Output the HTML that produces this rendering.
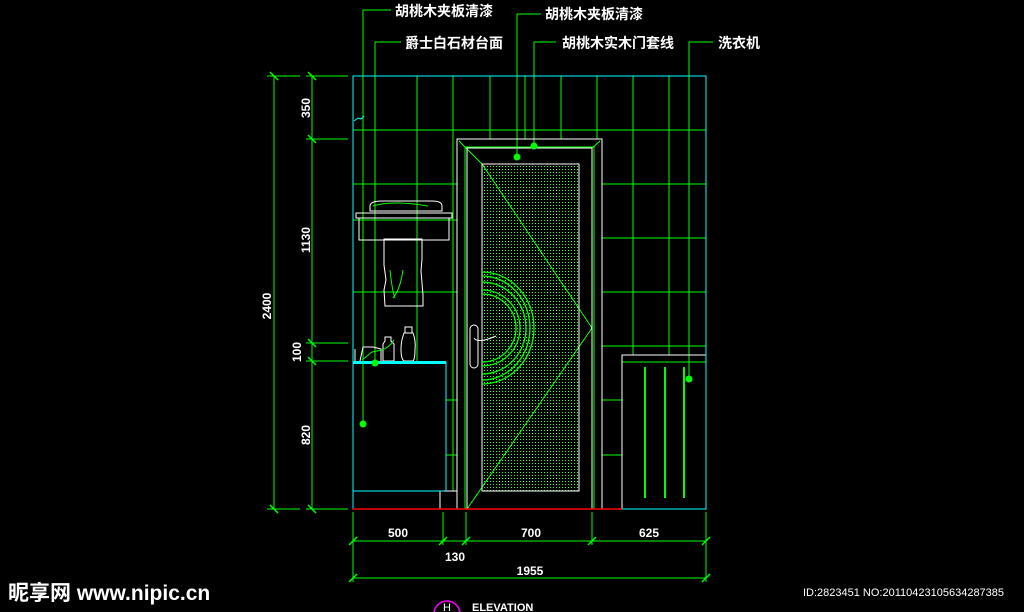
<!DOCTYPE html>
<html><head><meta charset="utf-8"><style>
html,body{margin:0;padding:0;background:#000;width:1024px;height:612px;overflow:hidden}
svg{display:block}
text{font-family:"Liberation Sans","Noto Sans CJK SC",sans-serif;fill:#fff}
</style></head><body>
<svg width="1024" height="612" viewBox="0 0 1024 612" xmlns="http://www.w3.org/2000/svg">
<defs>
<pattern id="dots" width="3" height="3" patternUnits="userSpaceOnUse"><rect x="1" y="1" width="1" height="1" fill="#3f3"/></pattern>
</defs>
<g stroke="#0f0" stroke-width="1" fill="none" shape-rendering="crispEdges">
<line x1="353" y1="130" x2="706" y2="130"/>
<line x1="353" y1="184" x2="457" y2="184"/><line x1="602" y1="184" x2="706" y2="184"/>
<line x1="353" y1="220" x2="457" y2="220"/>
<line x1="602" y1="238" x2="706" y2="238"/>
<line x1="353" y1="292" x2="457" y2="292"/><line x1="602" y1="292" x2="706" y2="292"/>
<line x1="602" y1="346" x2="706" y2="346"/>
<line x1="622" y1="362" x2="706" y2="362"/>
<line x1="446" y1="400" x2="457" y2="400"/><line x1="602" y1="400" x2="622" y2="400"/>
<line x1="446" y1="455" x2="457" y2="455"/><line x1="602" y1="455" x2="622" y2="455"/>
<line x1="417" y1="76" x2="417" y2="362"/>
<line x1="453" y1="76" x2="453" y2="491"/>
<line x1="490" y1="76" x2="490" y2="139"/>
<line x1="525" y1="76" x2="525" y2="139"/>
<line x1="561" y1="76" x2="561" y2="139"/>
<line x1="597" y1="76" x2="597" y2="139"/>
<line x1="633" y1="76" x2="633" y2="355"/>
<line x1="669" y1="76" x2="669" y2="355"/>
<polyline points="391,10 363,10 363,424"/>
<polyline points="401,42 375,42 375,363"/>
<polyline points="541,14 517,14 517,157"/>
<polyline points="556,42 534,42 534,146"/>
<polyline points="713,42 689,42 689,379"/>
<rect x="465" y="147" width="129" height="362"/>
<line x1="459" y1="141" x2="482" y2="164"/>
<line x1="600" y1="141" x2="592" y2="148"/>
<line x1="482" y1="164" x2="592" y2="328"/>
<line x1="592" y1="328" x2="467" y2="509"/>
<line x1="645" y1="367" x2="645" y2="498" stroke-width="2"/>
<line x1="665" y1="367" x2="665" y2="498" stroke-width="2"/>
<line x1="684" y1="367" x2="684" y2="498" stroke-width="2"/>
<line x1="274" y1="76" x2="274" y2="509"/>
<line x1="312" y1="76" x2="312" y2="509"/>
<line x1="267" y1="76" x2="300" y2="76"/><line x1="306" y1="76" x2="348" y2="76"/>
<line x1="306" y1="139" x2="348" y2="139"/>
<line x1="306" y1="343" x2="348" y2="343"/>
<line x1="306" y1="361" x2="348" y2="361"/>
<line x1="267" y1="509" x2="300" y2="509"/><line x1="306" y1="509" x2="348" y2="509"/>
<line x1="353" y1="541" x2="706" y2="541"/>
<line x1="353" y1="578" x2="706" y2="578"/>
<line x1="353" y1="512" x2="353" y2="582"/>
<line x1="443" y1="512" x2="443" y2="545"/>
<line x1="466" y1="512" x2="466" y2="545"/>
<line x1="592" y1="512" x2="592" y2="545"/>
<line x1="706" y1="512" x2="706" y2="582"/>
</g>
<g stroke="#0f0" stroke-width="1.5">
<path d="M270 72l8 8M308 72l8 8M308 135l8 8M308 339l8 8M308 357l8 8M270 505l8 8M308 505l8 8"/>
<path d="M349 545l8-8M439 545l8-8M462 545l8-8M588 545l8-8M702 545l8-8M349 582l8-8M702 582l8-8"/>
</g>
<rect x="482" y="164" width="97" height="327" fill="url(#dots)" stroke="#fff" stroke-width="1"/>
<g fill="none" stroke="#0f0" stroke-width="1.3">
<path d="M482 272 a52 56 0 0 1 0 112"/><path d="M482 276 a48 52 0 0 1 0 104"/>
<path d="M482 282 a44 46 0 0 1 0 92"/><path d="M482 290 a38 38 0 0 1 0 76"/><path d="M482 294 a34 34 0 0 1 0 68"/>
</g>
<g fill="none" stroke="#fff" stroke-width="1" shape-rendering="crispEdges">
<rect x="457" y="139" width="145" height="370"/>
<rect x="467" y="148" width="125" height="361"/>
<rect x="622" y="355" width="84" height="154"/>
<rect x="353" y="491" width="104" height="18"/>
<line x1="440" y1="491" x2="440" y2="509"/>
</g>
<rect x="470" y="325" width="8" height="43" rx="4" fill="none" stroke="#fff"/>
<path d="M474 338 q4 6 22 -2" fill="none" stroke="#fff"/>
<g fill="none" stroke="#fff" stroke-width="1">
<path d="M370 206 q0-5 12-5 h50 q10 0 10 5 v5 h-72z"/>
<rect x="356" y="213" width="96" height="5"/>
<rect x="359" y="218" width="90" height="22"/>
<path d="M384 239 h38 v20 l-1 12 2 24 v11 h-38 l-1-16 2-10 -2-15z"/>
<path d="M383 361 v-17 l2-3 v-4 h6 v4 l3 3 v17z"/>
<rect x="405" y="327" width="7" height="6"/>
<path d="M404 333 h9 q3 8 2 16 q0 10 -2 12 h-9 q-3 -2 -3 -12 q0 -8 3 -16z"/>
<path d="M355 361 v-12 M360 361 l3-14 h10 l8 2 v12"/>
</g>
<path d="M373 206 q20 -6 55 0" fill="none" stroke="#0f0"/>
<path d="M390 270 q2 20 5 28M403 270 q-3 20 -10 28M362 360 l10-8 10-2 q8-3 12-10" fill="none" stroke="#0f0"/>
<g fill="none" stroke="#0ff" stroke-width="1" shape-rendering="crispEdges">
<rect x="353" y="76" width="353" height="433"/>
<line x1="446" y1="362" x2="446" y2="491"/>
<line x1="353" y1="491" x2="444" y2="491"/>
</g>
<rect x="353" y="361" width="93" height="3" fill="#0ff"/>
<path d="M354 121 l4-3 3 1 3-3" stroke="#0ff" fill="none"/>
<line x1="353" y1="509" x2="622" y2="509" stroke="#f00" stroke-width="1.5"/>
<g fill="#0f0"><circle cx="363" cy="424" r="3.5"/><circle cx="375" cy="363" r="3.5"/><circle cx="517" cy="157" r="3.5"/><circle cx="534" cy="146" r="3.5"/><circle cx="689" cy="379" r="3.5"/></g>
<g font-size="14" font-weight="bold">
<text x="395" y="16">胡桃木夹板清漆</text>
<text x="405" y="48">爵士白石材台面</text>
<text x="545" y="19">胡桃木夹板清漆</text>
<text x="562" y="48">胡桃木实木门套线</text>
<text x="718" y="48">洗衣机</text>
</g>
<g font-size="12" font-weight="bold">
<text transform="translate(271,306) rotate(-90)" text-anchor="middle">2400</text>
<text transform="translate(310,108) rotate(-90)" text-anchor="middle">350</text>
<text transform="translate(310,240) rotate(-90)" text-anchor="middle">1130</text>
<text transform="translate(301,352) rotate(-90)" text-anchor="middle">100</text>
<text transform="translate(310,435) rotate(-90)" text-anchor="middle">820</text>
<text x="398" y="537" text-anchor="middle">500</text>
<text x="531" y="537" text-anchor="middle">700</text>
<text x="649" y="537" text-anchor="middle">625</text>
<text x="455" y="561" text-anchor="middle">130</text>
<text x="530" y="575" text-anchor="middle">1955</text>
</g>
<text x="8" y="600" font-size="21" font-weight="bold" fill="#ddd">昵享网 www.nipic.cn</text>
<text x="803" y="596" font-size="11" fill="#ccc">ID:2823451 NO:20110423105634287385</text>
<circle cx="447" cy="614" r="13" fill="none" stroke="#f0f" stroke-width="1.5"/>
<text x="447" y="611" font-size="11" text-anchor="middle">H</text>
<text x="472" y="611" font-size="11" font-weight="bold">ELEVATION</text>
</svg>
</body></html>
